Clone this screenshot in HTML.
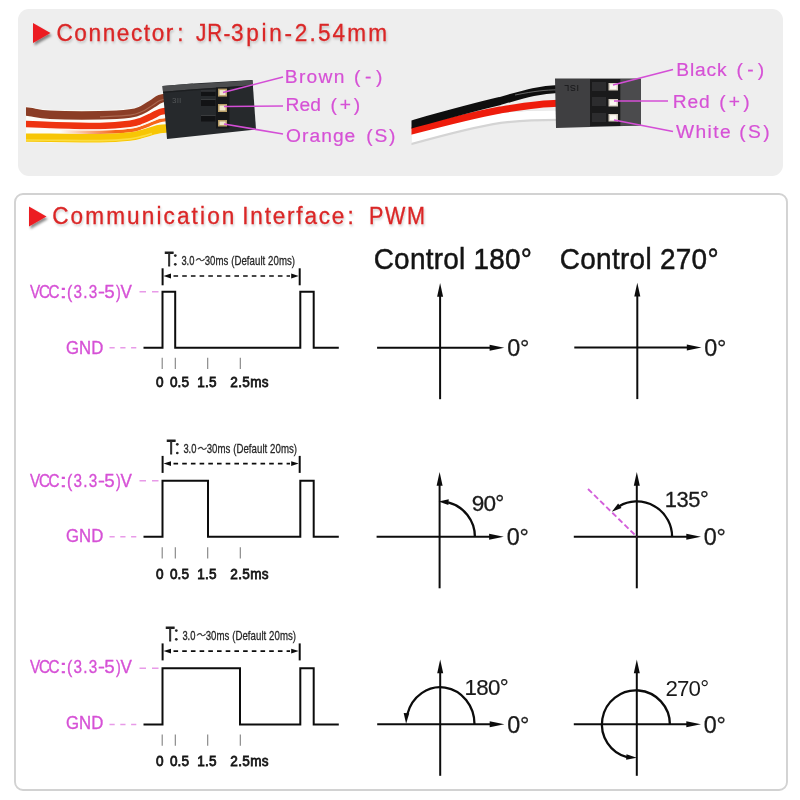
<!DOCTYPE html>
<html><head><meta charset="utf-8"><style>
html,body{margin:0;padding:0;background:#fff;width:800px;height:800px;overflow:hidden}
svg{display:block}
text{font-family:"Liberation Sans", sans-serif;font-kerning:none;font-variant-ligatures:none}
</style></head><body>
<svg width="800" height="800" viewBox="0 0 800 800">
<defs>
<linearGradient id="og" gradientUnits="userSpaceOnUse" x1="60" y1="0" x2="115" y2="0"><stop offset="0" stop-color="#f6661a" stop-opacity="0"/><stop offset="1" stop-color="#f6661a" stop-opacity="1"/></linearGradient>
<clipPath id="cr"><rect x="411.5" y="60" width="160" height="100"/></clipPath>
<clipPath id="cl"><rect x="26" y="60" width="160" height="100"/></clipPath>
<filter id="gs" x="0" y="0" width="100%" height="100%" filterUnits="userSpaceOnUse"><feOffset dx="0" dy="0"/></filter>
<filter id="sh" x="-50%" y="-50%" width="200%" height="200%"><feDropShadow dx="1.5" dy="2.5" stdDeviation="1.3" flood-color="#000" flood-opacity="0.45"/></filter>
<filter id="sh2" x="-10%" y="-30%" width="120%" height="160%"><feDropShadow dx="1" dy="2" stdDeviation="1.2" flood-color="#000" flood-opacity="0.18"/></filter>
</defs>
<g filter="url(#gs)">
<rect x="18" y="9" width="765" height="167" rx="11" fill="#eeeeee"/>
<rect x="15" y="194" width="772" height="596" rx="8" fill="#ffffff" stroke="#d2d2d2" stroke-width="1.9"/>
<polygon points="33,23 50.5,33 33,43" fill="#ec1f24" filter="url(#sh)"/>
<text transform="translate(56.47,41.10) scale(0.96,1)" x="0" y="0" font-size="23.5" letter-spacing="1.681" fill="#da2626" stroke="#da2626" stroke-width="0.3" filter="url(#sh2)">Connector</text>
<text transform="translate(177.37,41.10) scale(0.96,1)" x="0" y="0" font-size="23.5" letter-spacing="0.000" fill="#da2626" stroke="#da2626" stroke-width="0.3" filter="url(#sh2)">:</text>
<text transform="translate(195.94,41.10) scale(0.88,1)" x="0" y="0" font-size="23.5" letter-spacing="1.240" fill="#da2626" stroke="#da2626" stroke-width="0.3" filter="url(#sh2)">JR-</text>
<text transform="translate(230.90,41.10) scale(0.96,1)" x="0" y="0" font-size="23.5" letter-spacing="2.843" fill="#da2626" stroke="#da2626" stroke-width="0.3" filter="url(#sh2)">3pin-</text>
<text transform="translate(294.87,41.10) scale(0.96,1)" x="0" y="0" font-size="23.5" letter-spacing="2.228" fill="#da2626" stroke="#da2626" stroke-width="0.3" filter="url(#sh2)">2.54mm</text>
<polygon points="29,206.5 46.5,216.5 29,226.5" fill="#ec1f24" filter="url(#sh)"/>
<text transform="translate(52.17,223.70) scale(0.96,1)" x="0" y="0" font-size="23.5" letter-spacing="2.222" fill="#da2626" stroke="#da2626" stroke-width="0.3" filter="url(#sh2)">Communication</text>
<text transform="translate(242.31,223.70) scale(0.96,1)" x="0" y="0" font-size="23.5" letter-spacing="1.860" fill="#da2626" stroke="#da2626" stroke-width="0.3" filter="url(#sh2)">Interface</text>
<text transform="translate(347.57,223.70) scale(0.96,1)" x="0" y="0" font-size="23.5" letter-spacing="0.000" fill="#da2626" stroke="#da2626" stroke-width="0.3" filter="url(#sh2)">:</text>
<text transform="translate(369.12,223.70) scale(0.92,1)" x="0" y="0" font-size="23.5" letter-spacing="1.663" fill="#da2626" stroke="#da2626" stroke-width="0.3" filter="url(#sh2)">PWM</text>
<g clip-path="url(#cl)">
<path d="M18,105.5 C20.00,105.75 24.67,106.28 30,107 C35.33,107.72 38.33,109.25 50,109.8 C61.67,110.35 86.67,110.52 100,110.3 C113.33,110.08 123.00,109.38 130,108.5 C137.00,107.62 138.33,106.58 142,105 C145.67,103.42 149.00,100.83 152,99 C155.00,97.17 157.33,95.08 160,94 C162.67,92.92 166.67,92.75 168,92.5 L168,133.1 168,133.1 C166.67,133.18 162.67,133.18 160,133.6 C157.33,134.02 155.00,134.77 152,135.6 C149.00,136.43 145.67,137.68 142,138.6 C138.33,139.52 137.00,140.40 130,141.1 C123.00,141.80 113.33,142.58 100,142.79999999999998 C86.67,143.02 63.67,142.50 50,142.4 C36.33,142.30 23.33,142.23 18,142.2 Z" fill="#fdfdf8"/>
<path d="M18,110.5 C20.00,110.75 24.67,111.28 30,112 C35.33,112.72 38.33,114.25 50,114.8 C61.67,115.35 86.67,115.52 100,115.3 C113.33,115.08 123.00,114.38 130,113.5 C137.00,112.62 138.33,111.58 142,110 C145.67,108.42 149.00,105.83 152,104 C155.00,102.17 157.33,100.08 160,99 C162.67,97.92 166.67,97.75 168,97.5" fill="none" stroke="#8b3d25" stroke-width="8.4"/>
<path d="M100,116.89999999999999 C105.00,116.60 123.00,115.98 130,115.1 C137.00,114.22 138.33,113.18 142,111.6 C145.67,110.02 149.00,107.43 152,105.6 C155.00,103.77 157.33,101.68 160,100.6 C162.67,99.52 166.67,99.35 168,99.1" fill="none" stroke="#b27058" stroke-width="1.1" opacity="0.8"/>
<path d="M18,123.6 C23.33,123.83 36.33,124.60 50,125 C63.67,125.40 86.67,126.20 100,126 C113.33,125.80 123.00,124.72 130,123.8 C137.00,122.88 138.33,121.80 142,120.5 C145.67,119.20 149.00,117.42 152,116 C155.00,114.58 157.33,112.92 160,112 C162.67,111.08 166.67,110.75 168,110.5" fill="none" stroke="#ee3410" stroke-width="6.6"/>
<path d="M18,131 C23.33,131.08 36.33,131.30 50,131.5 C63.67,131.70 86.67,132.37 100,132.2 C113.33,132.03 123.00,131.28 130,130.5 C137.00,129.72 138.33,128.67 142,127.5 C145.67,126.33 149.00,124.67 152,123.5 C155.00,122.33 157.33,121.17 160,120.5 C162.67,119.83 166.67,119.67 168,119.5" fill="none" stroke="url(#og)" stroke-width="3.4"/>
<path d="M50,129.3 C58.33,129.42 86.67,130.17 100,130.0 C113.33,129.83 123.00,129.08 130,128.3 C137.00,127.52 138.33,126.47 142,125.3 C145.67,124.13 149.00,122.47 152,121.3 C155.00,120.13 157.33,118.97 160,118.3 C162.67,117.63 166.67,117.47 168,117.3" fill="none" stroke="#fff4ea" stroke-width="1.1" opacity="0.9"/>
<path d="M18,137.6 C23.33,137.63 36.33,137.70 50,137.8 C63.67,137.90 86.67,138.42 100,138.2 C113.33,137.98 123.00,137.20 130,136.5 C137.00,135.80 138.33,134.92 142,134 C145.67,133.08 149.00,131.83 152,131 C155.00,130.17 157.33,129.42 160,129 C162.67,128.58 166.67,128.58 168,128.5" fill="none" stroke="#f7c605" stroke-width="8.4"/>
<path d="M18,140.0 C23.33,140.03 36.33,140.10 50,140.20000000000002 C63.67,140.30 86.67,140.82 100,140.6 C113.33,140.38 123.00,139.60 130,138.9 C137.00,138.20 138.33,137.32 142,136.4 C145.67,135.48 150.33,133.90 152,133.4" fill="none" stroke="#fde24e" stroke-width="1.6" opacity="0.8"/>
</g>
<polygon points="162.5,86 193,83.5 252.5,80 256,129.5 167,139" fill="#26292c"/>
<polygon points="162.5,86 192.5,83.4 193.5,84.2 252.5,80.2 252.8,85.2 193.5,89.2 163,91.8" fill="#4b4c4e"/>
<polygon points="163,91.8 193.5,89.2 252.8,85.2 252.9,86.4 193.5,90.4 163.1,93" fill="#1c1e20"/>
<rect x="201" y="91.5" width="14.5" height="4.5" fill="#121315"/>
<rect x="201" y="90.5" width="14.5" height="1" fill="#3a3c3e"/>
<rect x="201" y="100" width="14.5" height="6" fill="#121315"/>
<rect x="201" y="99" width="14.5" height="1" fill="#3a3c3e"/>
<rect x="201" y="116" width="14.5" height="5.5" fill="#121315"/>
<rect x="201" y="115" width="14.5" height="1" fill="#3a3c3e"/>
<rect x="216" y="87.5" width="13.5" height="41" fill="#161719"/>
<rect x="218" y="88.6" width="9" height="8" fill="#b89e68"/>
<rect x="219.5" y="90.1" width="6" height="5" fill="#efe6cc"/>
<rect x="218" y="104" width="9" height="8" fill="#b89e68"/>
<rect x="219.5" y="105.5" width="6" height="5" fill="#efe6cc"/>
<rect x="218" y="120" width="9" height="6.5" fill="#b89e68"/>
<rect x="219.5" y="121.5" width="6" height="3.5" fill="#efe6cc"/>
<text x="172" y="103" font-size="8" fill="#55585a" letter-spacing="0.5">3ll</text>
<g clip-path="url(#cr)">
<path d="M404,141.5 C440,131.5 470,123 500,118.5 C525,115.5 540,115.5 558,115.5" fill="none" stroke="#d4d4d4" stroke-width="11"/>
<path d="M404,140.5 C440,130.5 470,122 500,117.5 C525,114.5 540,114.5 558,114.5" fill="none" stroke="#ffffff" stroke-width="8.5"/>
<path d="M404,133 C440,123.5 470,115.5 500,110 C525,106 540,103.5 558,103.3" fill="none" stroke="#ee1c0c" stroke-width="7"/>
<path d="M404,126.5 C440,116.5 470,108 500,101 C525,94 540,89.5 558,89" fill="none" stroke="#0e0e0e" stroke-width="8"/>
<path d="M515,95 C535,91 545,90 558,89.8" fill="none" stroke="#8a8a8a" stroke-width="0.9" opacity="0.8"/>
</g>
<polygon points="555,78.5 641,78.5 641,125.5 556,128" fill="#3f3f41"/>
<rect x="590" y="79" width="30.5" height="47" fill="#1a1a1b"/>
<rect x="620.5" y="79" width="20.5" height="46.5" fill="#4b4b4d"/>
<rect x="592" y="82" width="14" height="9" fill="#2c2c2e"/>
<rect x="592" y="97" width="14" height="9" fill="#2c2c2e"/>
<rect x="592" y="113" width="14" height="9" fill="#2c2c2e"/>
<rect x="608.5" y="83" width="9.5" height="7.5" fill="#d8d0c4"/>
<rect x="610" y="84.2" width="6.5" height="5" fill="#fbf8f2"/>
<rect x="608.5" y="99" width="9.5" height="7.5" fill="#d8d0c4"/>
<rect x="610" y="100.2" width="6.5" height="5" fill="#fbf8f2"/>
<rect x="608.5" y="114" width="9.5" height="7.5" fill="#d8d0c4"/>
<rect x="610" y="115.2" width="6.5" height="5" fill="#fbf8f2"/>
<text x="562" y="92" font-size="9" fill="#141416" letter-spacing="0.6" transform="rotate(180 570.5 88.5)">ISL</text>
<line x1="223" y1="92.5" x2="283" y2="77" stroke="#d44ed6" stroke-width="1.6"/>
<line x1="224" y1="106.5" x2="283" y2="106" stroke="#d44ed6" stroke-width="1.6"/>
<line x1="224" y1="124" x2="283" y2="134" stroke="#d44ed6" stroke-width="1.6"/>
<line x1="613" y1="85" x2="673" y2="69.5" stroke="#d44ed6" stroke-width="1.6"/>
<line x1="614" y1="101" x2="668" y2="101" stroke="#d44ed6" stroke-width="1.6"/>
<line x1="614" y1="120" x2="673" y2="131.5" stroke="#d44ed6" stroke-width="1.6"/>
<text transform="translate(284.82,82.60) scale(1.0,1)" x="0" y="0" font-size="19.2" letter-spacing="1.300" fill="#d651d6" stroke="#d651d6" stroke-width="0.2">Brown</text>
<text transform="translate(354.10,82.60) scale(1.0,1)" x="0" y="0" font-size="19.2" letter-spacing="4.600" fill="#d651d6" stroke="#d651d6" stroke-width="0.2">(-)</text>
<text transform="translate(285.42,111.20) scale(1.0,1)" x="0" y="0" font-size="19.2" letter-spacing="0.100" fill="#d651d6" stroke="#d651d6" stroke-width="0.2">Red</text>
<text transform="translate(330.50,111.20) scale(1.0,1)" x="0" y="0" font-size="19.2" letter-spacing="2.826" fill="#d651d6" stroke="#d651d6" stroke-width="0.2">(+)</text>
<text transform="translate(286.09,142.00) scale(1.0,1)" x="0" y="0" font-size="19.2" letter-spacing="1.039" fill="#d651d6" stroke="#d651d6" stroke-width="0.2">Orange</text>
<text transform="translate(366.30,142.00) scale(1.0,1)" x="0" y="0" font-size="19.2" letter-spacing="1.784" fill="#d651d6" stroke="#d651d6" stroke-width="0.2">(S)</text>
<text transform="translate(676.22,75.60) scale(1.0,1)" x="0" y="0" font-size="19.2" letter-spacing="0.860" fill="#d651d6" stroke="#d651d6" stroke-width="0.2">Black</text>
<text transform="translate(736.50,75.60) scale(1.0,1)" x="0" y="0" font-size="19.2" letter-spacing="4.250" fill="#d651d6" stroke="#d651d6" stroke-width="0.2">(-)</text>
<text transform="translate(672.72,107.80) scale(1.0,1)" x="0" y="0" font-size="19.2" letter-spacing="0.850" fill="#d651d6" stroke="#d651d6" stroke-width="0.2">Red</text>
<text transform="translate(719.20,107.80) scale(1.0,1)" x="0" y="0" font-size="19.2" letter-spacing="3.276" fill="#d651d6" stroke="#d651d6" stroke-width="0.2">(+)</text>
<text transform="translate(675.90,138.00) scale(1.0,1)" x="0" y="0" font-size="19.2" letter-spacing="1.439" fill="#d651d6" stroke="#d651d6" stroke-width="0.2">White</text>
<text transform="translate(739.20,138.00) scale(1.0,1)" x="0" y="0" font-size="19.2" letter-spacing="2.434" fill="#d651d6" stroke="#d651d6" stroke-width="0.2">(S)</text>
<text transform="translate(30.12,298.30) scale(0.85,1)" x="0" y="0" font-size="18" letter-spacing="-1.689" fill="#d651d6" stroke="#d651d6" stroke-width="0.35">VCC</text>
<text transform="translate(59.61,298.30) scale(1.538,1)" x="0" y="0" font-size="18" letter-spacing="0.000" fill="#d651d6" stroke="#d651d6" stroke-width="0.35">:</text>
<text transform="translate(67.01,298.30) scale(0.881,1)" x="0" y="0" font-size="18" letter-spacing="0.000" fill="#d651d6" stroke="#d651d6" stroke-width="0.35">(</text>
<text transform="translate(73.43,298.30) scale(0.85,1)" x="0" y="0" font-size="18" letter-spacing="1.504" fill="#d651d6" stroke="#d651d6" stroke-width="0.35">3.3</text>
<text transform="translate(97.96,298.30) scale(1.156,1)" x="0" y="0" font-size="18" letter-spacing="0.000" fill="#d651d6" stroke="#d651d6" stroke-width="0.35">-</text>
<text transform="translate(104.25,298.30) scale(1.041,1)" x="0" y="0" font-size="18" letter-spacing="0.000" fill="#d651d6" stroke="#d651d6" stroke-width="0.35">5</text>
<text transform="translate(116.09,298.30) scale(0.797,1)" x="0" y="0" font-size="18" letter-spacing="0.000" fill="#d651d6" stroke="#d651d6" stroke-width="0.35">)</text>
<text transform="translate(120.41,298.30) scale(0.946,1)" x="0" y="0" font-size="18" letter-spacing="0.000" fill="#d651d6" stroke="#d651d6" stroke-width="0.35">V</text>
<text transform="translate(66.06,354.10) scale(0.9,1)" x="0" y="0" font-size="18.6" letter-spacing="0.015" fill="#d651d6" stroke="#d651d6" stroke-width="0.35">GND</text>
<line x1="139.5" y1="291.7" x2="159.5" y2="291.7" stroke="#e89ae8" stroke-width="1.5" stroke-dasharray="6.5 6"/>
<line x1="109.5" y1="347.8" x2="138" y2="347.8" stroke="#e89ae8" stroke-width="1.5" stroke-dasharray="5.2 5.6"/>
<path d="M143.5,347.8 H162.5 V291.7 H175.2 V347.8 H300.3 V291.7 H313.7 V347.8 H338.8" fill="none" stroke="#0c0c0c" stroke-width="2"/>
<line x1="162.6" y1="268.3" x2="162.6" y2="285.3" stroke="#0c0c0c" stroke-width="2"/>
<line x1="299.7" y1="268.3" x2="299.7" y2="285.3" stroke="#0c0c0c" stroke-width="2"/>
<line x1="173.5" y1="276.0" x2="290" y2="276.0" stroke="#0c0c0c" stroke-width="1.6" stroke-dasharray="4.6 4.1"/>
<polygon points="163.5,276.0 171,273.6 171,278.4" fill="#0c0c0c"/>
<polygon points="298.7,276.0 291.2,273.6 291.2,278.4" fill="#0c0c0c"/>
<text transform="translate(164.67,265.50) scale(0.715,1)" x="0" y="0" font-size="20.3" letter-spacing="0.000" fill="#1e1e1e" stroke="#1e1e1e" stroke-width="0.9">T</text>
<circle cx="175.3" cy="255.6" r="1.35" fill="#262626"/><circle cx="175.3" cy="264.3" r="1.35" fill="#262626"/>
<text transform="translate(181.40,264.60) scale(0.7,1)" x="0" y="0" font-size="13.4" letter-spacing="0.011" fill="#262626" stroke="#262626" stroke-width="0.35">3.0</text>
<path d="M196,260.5 C198,257.9 200,258.5 200.3,259.7 S202.6,261.5 204.6,258.9" fill="none" stroke="#3a3a3a" stroke-width="1.2"/>
<text transform="translate(204.64,264.60) scale(0.72,1)" x="0" y="0" font-size="13.4" letter-spacing="0.078" fill="#262626" stroke="#262626" stroke-width="0.3">30ms (Default 20ms)</text>
<line x1="162.2" y1="357.7" x2="162.2" y2="368.9" stroke="#808080" stroke-width="1.1"/>
<line x1="175.3" y1="357.7" x2="175.3" y2="368.9" stroke="#808080" stroke-width="1.1"/>
<line x1="207.7" y1="357.7" x2="207.7" y2="368.9" stroke="#808080" stroke-width="1.1"/>
<line x1="240.3" y1="357.7" x2="240.3" y2="368.9" stroke="#808080" stroke-width="1.1"/>
<text transform="translate(155.96,386.60) scale(0.952,1)" x="0" y="0" font-size="14.3" letter-spacing="0.000" fill="#141414" stroke="#141414" stroke-width="0.75">0</text>
<text transform="translate(169.96,386.60) scale(0.95,1)" x="0" y="0" font-size="14.3" letter-spacing="0.107" fill="#141414" stroke="#141414" stroke-width="0.75">0.5</text>
<text transform="translate(197.18,386.60) scale(0.95,1)" x="0" y="0" font-size="14.3" letter-spacing="0.200" fill="#141414" stroke="#141414" stroke-width="0.75">1.5</text>
<text transform="translate(230.22,386.60) scale(0.95,1)" x="0" y="0" font-size="14.3" letter-spacing="0.387" fill="#141414" stroke="#141414" stroke-width="0.75">2.5ms</text>
<text transform="translate(30.12,486.60) scale(0.85,1)" x="0" y="0" font-size="18" letter-spacing="-1.689" fill="#d651d6" stroke="#d651d6" stroke-width="0.35">VCC</text>
<text transform="translate(59.61,486.60) scale(1.538,1)" x="0" y="0" font-size="18" letter-spacing="0.000" fill="#d651d6" stroke="#d651d6" stroke-width="0.35">:</text>
<text transform="translate(67.01,486.60) scale(0.881,1)" x="0" y="0" font-size="18" letter-spacing="0.000" fill="#d651d6" stroke="#d651d6" stroke-width="0.35">(</text>
<text transform="translate(73.43,486.60) scale(0.85,1)" x="0" y="0" font-size="18" letter-spacing="1.504" fill="#d651d6" stroke="#d651d6" stroke-width="0.35">3.3</text>
<text transform="translate(97.96,486.60) scale(1.156,1)" x="0" y="0" font-size="18" letter-spacing="0.000" fill="#d651d6" stroke="#d651d6" stroke-width="0.35">-</text>
<text transform="translate(104.25,486.60) scale(1.041,1)" x="0" y="0" font-size="18" letter-spacing="0.000" fill="#d651d6" stroke="#d651d6" stroke-width="0.35">5</text>
<text transform="translate(116.09,486.60) scale(0.797,1)" x="0" y="0" font-size="18" letter-spacing="0.000" fill="#d651d6" stroke="#d651d6" stroke-width="0.35">)</text>
<text transform="translate(120.41,486.60) scale(0.946,1)" x="0" y="0" font-size="18" letter-spacing="0.000" fill="#d651d6" stroke="#d651d6" stroke-width="0.35">V</text>
<text transform="translate(66.06,541.90) scale(0.9,1)" x="0" y="0" font-size="18.6" letter-spacing="0.015" fill="#d651d6" stroke="#d651d6" stroke-width="0.35">GND</text>
<line x1="139.5" y1="480.8" x2="159.5" y2="480.8" stroke="#e89ae8" stroke-width="1.5" stroke-dasharray="6.5 6"/>
<line x1="109.5" y1="536.8" x2="138" y2="536.8" stroke="#e89ae8" stroke-width="1.5" stroke-dasharray="5.2 5.6"/>
<path d="M143.5,536.8 H162.5 V480.8 H208 V536.8 H300.3 V480.8 H313.7 V536.8 H338.8" fill="none" stroke="#0c0c0c" stroke-width="2"/>
<line x1="162.6" y1="455.90000000000003" x2="162.6" y2="472.90000000000003" stroke="#0c0c0c" stroke-width="2"/>
<line x1="299.7" y1="455.90000000000003" x2="299.7" y2="472.90000000000003" stroke="#0c0c0c" stroke-width="2"/>
<line x1="173.5" y1="463.6" x2="290" y2="463.6" stroke="#0c0c0c" stroke-width="1.6" stroke-dasharray="4.6 4.1"/>
<polygon points="163.5,463.6 171,461.20000000000005 171,466.0" fill="#0c0c0c"/>
<polygon points="298.7,463.6 291.2,461.20000000000005 291.2,466.0" fill="#0c0c0c"/>
<text transform="translate(166.67,454.20) scale(0.715,1)" x="0" y="0" font-size="20.3" letter-spacing="0.000" fill="#1e1e1e" stroke="#1e1e1e" stroke-width="0.9">T</text>
<circle cx="177.3" cy="444.3" r="1.35" fill="#262626"/><circle cx="177.3" cy="453.0" r="1.35" fill="#262626"/>
<text transform="translate(183.40,453.30) scale(0.7,1)" x="0" y="0" font-size="13.4" letter-spacing="0.011" fill="#262626" stroke="#262626" stroke-width="0.35">3.0</text>
<path d="M198,449.2 C200,446.59999999999997 202,447.2 202.3,448.4 S204.6,450.2 206.6,447.59999999999997" fill="none" stroke="#3a3a3a" stroke-width="1.2"/>
<text transform="translate(206.64,453.30) scale(0.72,1)" x="0" y="0" font-size="13.4" letter-spacing="0.078" fill="#262626" stroke="#262626" stroke-width="0.3">30ms (Default 20ms)</text>
<line x1="162.2" y1="547.3" x2="162.2" y2="558.5" stroke="#808080" stroke-width="1.1"/>
<line x1="175.3" y1="547.3" x2="175.3" y2="558.5" stroke="#808080" stroke-width="1.1"/>
<line x1="207.7" y1="547.3" x2="207.7" y2="558.5" stroke="#808080" stroke-width="1.1"/>
<line x1="240.3" y1="547.3" x2="240.3" y2="558.5" stroke="#808080" stroke-width="1.1"/>
<text transform="translate(155.96,578.70) scale(0.952,1)" x="0" y="0" font-size="14.3" letter-spacing="0.000" fill="#141414" stroke="#141414" stroke-width="0.75">0</text>
<text transform="translate(169.96,578.70) scale(0.95,1)" x="0" y="0" font-size="14.3" letter-spacing="0.107" fill="#141414" stroke="#141414" stroke-width="0.75">0.5</text>
<text transform="translate(197.18,578.70) scale(0.95,1)" x="0" y="0" font-size="14.3" letter-spacing="0.200" fill="#141414" stroke="#141414" stroke-width="0.75">1.5</text>
<text transform="translate(230.22,578.70) scale(0.95,1)" x="0" y="0" font-size="14.3" letter-spacing="0.387" fill="#141414" stroke="#141414" stroke-width="0.75">2.5ms</text>
<text transform="translate(30.12,673.30) scale(0.85,1)" x="0" y="0" font-size="18" letter-spacing="-1.689" fill="#d651d6" stroke="#d651d6" stroke-width="0.35">VCC</text>
<text transform="translate(59.61,673.30) scale(1.538,1)" x="0" y="0" font-size="18" letter-spacing="0.000" fill="#d651d6" stroke="#d651d6" stroke-width="0.35">:</text>
<text transform="translate(67.01,673.30) scale(0.881,1)" x="0" y="0" font-size="18" letter-spacing="0.000" fill="#d651d6" stroke="#d651d6" stroke-width="0.35">(</text>
<text transform="translate(73.43,673.30) scale(0.85,1)" x="0" y="0" font-size="18" letter-spacing="1.504" fill="#d651d6" stroke="#d651d6" stroke-width="0.35">3.3</text>
<text transform="translate(97.96,673.30) scale(1.156,1)" x="0" y="0" font-size="18" letter-spacing="0.000" fill="#d651d6" stroke="#d651d6" stroke-width="0.35">-</text>
<text transform="translate(104.25,673.30) scale(1.041,1)" x="0" y="0" font-size="18" letter-spacing="0.000" fill="#d651d6" stroke="#d651d6" stroke-width="0.35">5</text>
<text transform="translate(116.09,673.30) scale(0.797,1)" x="0" y="0" font-size="18" letter-spacing="0.000" fill="#d651d6" stroke="#d651d6" stroke-width="0.35">)</text>
<text transform="translate(120.41,673.30) scale(0.946,1)" x="0" y="0" font-size="18" letter-spacing="0.000" fill="#d651d6" stroke="#d651d6" stroke-width="0.35">V</text>
<text transform="translate(66.06,729.00) scale(0.9,1)" x="0" y="0" font-size="18.6" letter-spacing="0.015" fill="#d651d6" stroke="#d651d6" stroke-width="0.35">GND</text>
<line x1="139.5" y1="668.3" x2="159.5" y2="668.3" stroke="#e89ae8" stroke-width="1.5" stroke-dasharray="6.5 6"/>
<line x1="109.5" y1="724.4" x2="138" y2="724.4" stroke="#e89ae8" stroke-width="1.5" stroke-dasharray="5.2 5.6"/>
<path d="M143.5,724.4 H162.5 V668.3 H240 V724.4 H300.3 V668.3 H313.7 V724.4 H338.8" fill="none" stroke="#0c0c0c" stroke-width="2"/>
<line x1="162.6" y1="643.3999999999999" x2="162.6" y2="660.3999999999999" stroke="#0c0c0c" stroke-width="2"/>
<line x1="299.7" y1="643.3999999999999" x2="299.7" y2="660.3999999999999" stroke="#0c0c0c" stroke-width="2"/>
<line x1="173.5" y1="651.0999999999999" x2="290" y2="651.0999999999999" stroke="#0c0c0c" stroke-width="1.6" stroke-dasharray="4.6 4.1"/>
<polygon points="163.5,651.0999999999999 171,648.6999999999999 171,653.4999999999999" fill="#0c0c0c"/>
<polygon points="298.7,651.0999999999999 291.2,648.6999999999999 291.2,653.4999999999999" fill="#0c0c0c"/>
<text transform="translate(165.67,640.50) scale(0.715,1)" x="0" y="0" font-size="20.3" letter-spacing="0.000" fill="#1e1e1e" stroke="#1e1e1e" stroke-width="0.9">T</text>
<circle cx="176.3" cy="630.6" r="1.35" fill="#262626"/><circle cx="176.3" cy="639.3" r="1.35" fill="#262626"/>
<text transform="translate(182.40,639.60) scale(0.7,1)" x="0" y="0" font-size="13.4" letter-spacing="0.011" fill="#262626" stroke="#262626" stroke-width="0.35">3.0</text>
<path d="M197,635.5 C199,632.9000000000001 201,633.5 201.3,634.7 S203.6,636.5 205.6,633.9000000000001" fill="none" stroke="#3a3a3a" stroke-width="1.2"/>
<text transform="translate(205.64,639.60) scale(0.72,1)" x="0" y="0" font-size="13.4" letter-spacing="0.078" fill="#262626" stroke="#262626" stroke-width="0.3">30ms (Default 20ms)</text>
<line x1="162.2" y1="734.5" x2="162.2" y2="745.7" stroke="#808080" stroke-width="1.1"/>
<line x1="175.3" y1="734.5" x2="175.3" y2="745.7" stroke="#808080" stroke-width="1.1"/>
<line x1="207.7" y1="734.5" x2="207.7" y2="745.7" stroke="#808080" stroke-width="1.1"/>
<line x1="240.3" y1="734.5" x2="240.3" y2="745.7" stroke="#808080" stroke-width="1.1"/>
<text transform="translate(155.96,765.70) scale(0.952,1)" x="0" y="0" font-size="14.3" letter-spacing="0.000" fill="#141414" stroke="#141414" stroke-width="0.75">0</text>
<text transform="translate(169.96,765.70) scale(0.95,1)" x="0" y="0" font-size="14.3" letter-spacing="0.107" fill="#141414" stroke="#141414" stroke-width="0.75">0.5</text>
<text transform="translate(197.18,765.70) scale(0.95,1)" x="0" y="0" font-size="14.3" letter-spacing="0.200" fill="#141414" stroke="#141414" stroke-width="0.75">1.5</text>
<text transform="translate(230.22,765.70) scale(0.95,1)" x="0" y="0" font-size="14.3" letter-spacing="0.387" fill="#141414" stroke="#141414" stroke-width="0.75">2.5ms</text>
<text transform="translate(373.70,269.30) scale(0.95,1)" x="0" y="0" font-size="29.4" letter-spacing="0.268" fill="#141414" stroke="#141414" stroke-width="0.5">Control 180°</text>
<text transform="translate(559.85,269.30) scale(0.95,1)" x="0" y="0" font-size="29.4" letter-spacing="0.311" fill="#141414" stroke="#141414" stroke-width="0.5">Control 270°</text>
<line x1="377.1" y1="347.7" x2="492.1" y2="347.7" stroke="#0c0c0c" stroke-width="2"/>
<polygon points="504.3,347.7 489.6,344.7 489.6,350.7" fill="#0c0c0c"/>
<line x1="440.1" y1="399.2" x2="440.1" y2="294.7" stroke="#0c0c0c" stroke-width="2"/>
<polygon points="440.1,282.9 437.1,296.7 443.1,296.7" fill="#0c0c0c"/>
<text transform="translate(507.16,356.00) scale(1.0,1)" x="0" y="0" font-size="23.4" letter-spacing="-0.257" fill="#1a1a1a" stroke="#1a1a1a" stroke-width="0.25">0°</text>
<line x1="574.3" y1="347.6" x2="689.3" y2="347.6" stroke="#0c0c0c" stroke-width="2"/>
<polygon points="701.5,347.6 686.8,344.6 686.8,350.6" fill="#0c0c0c"/>
<line x1="637.3" y1="399.1" x2="637.3" y2="294.6" stroke="#0c0c0c" stroke-width="2"/>
<polygon points="637.3,282.8 634.3,296.6 640.3,296.6" fill="#0c0c0c"/>
<text transform="translate(704.36,355.90) scale(1.0,1)" x="0" y="0" font-size="23.4" letter-spacing="-0.257" fill="#1a1a1a" stroke="#1a1a1a" stroke-width="0.25">0°</text>
<line x1="376.6" y1="536.8" x2="491.6" y2="536.8" stroke="#0c0c0c" stroke-width="2"/>
<polygon points="503.8,536.8 489.1,533.8 489.1,539.8" fill="#0c0c0c"/>
<line x1="439.6" y1="588.3" x2="439.6" y2="483.79999999999995" stroke="#0c0c0c" stroke-width="2"/>
<polygon points="439.6,471.99999999999994 436.6,485.79999999999995 442.6,485.79999999999995" fill="#0c0c0c"/>
<text transform="translate(506.66,545.10) scale(1.0,1)" x="0" y="0" font-size="23.4" letter-spacing="-0.257" fill="#1a1a1a" stroke="#1a1a1a" stroke-width="0.25">0°</text>
<line x1="573.8" y1="536.8" x2="688.8" y2="536.8" stroke="#0c0c0c" stroke-width="2"/>
<polygon points="701.0,536.8 686.3,533.8 686.3,539.8" fill="#0c0c0c"/>
<line x1="636.8" y1="588.3" x2="636.8" y2="483.79999999999995" stroke="#0c0c0c" stroke-width="2"/>
<polygon points="636.8,471.99999999999994 633.8,485.79999999999995 639.8,485.79999999999995" fill="#0c0c0c"/>
<text transform="translate(703.86,545.10) scale(1.0,1)" x="0" y="0" font-size="23.4" letter-spacing="-0.257" fill="#1a1a1a" stroke="#1a1a1a" stroke-width="0.25">0°</text>
<line x1="377.2" y1="724.3" x2="492.2" y2="724.3" stroke="#0c0c0c" stroke-width="2"/>
<polygon points="504.4,724.3 489.7,721.3 489.7,727.3" fill="#0c0c0c"/>
<line x1="440.2" y1="775.8" x2="440.2" y2="671.3" stroke="#0c0c0c" stroke-width="2"/>
<polygon points="440.2,659.5 437.2,673.3 443.2,673.3" fill="#0c0c0c"/>
<text transform="translate(507.26,732.60) scale(1.0,1)" x="0" y="0" font-size="23.4" letter-spacing="-0.257" fill="#1a1a1a" stroke="#1a1a1a" stroke-width="0.25">0°</text>
<line x1="573.8" y1="724.3" x2="688.8" y2="724.3" stroke="#0c0c0c" stroke-width="2"/>
<polygon points="701.0,724.3 686.3,721.3 686.3,727.3" fill="#0c0c0c"/>
<line x1="636.8" y1="775.8" x2="636.8" y2="671.3" stroke="#0c0c0c" stroke-width="2"/>
<polygon points="636.8,659.5 633.8,673.3 639.8,673.3" fill="#0c0c0c"/>
<text transform="translate(703.86,732.60) scale(1.0,1)" x="0" y="0" font-size="23.4" letter-spacing="-0.257" fill="#1a1a1a" stroke="#1a1a1a" stroke-width="0.25">0°</text>
<path d="M474.90,536.70 A35.3,35.3 0 0 0 448.14,502.45" fill="none" stroke="#0c0c0c" stroke-width="2.3"/>
<polygon points="438.60,501.40 448.77,499.30 448.38,504.89" fill="#0c0c0c"/>
<text transform="translate(471.83,510.90) scale(1.0,1)" x="0" y="0" font-size="22.6" letter-spacing="-0.826" fill="#1a1a1a" stroke="#1a1a1a" stroke-width="0.3">90°</text>
<line x1="588" y1="489" x2="636.8" y2="536.7" stroke="#d35fdb" stroke-width="1.9" stroke-dasharray="5.6 2.9"/>
<path d="M672.10,536.70 A35.3,35.3 0 0 0 619.15,506.13" fill="none" stroke="#0c0c0c" stroke-width="2.3"/>
<polygon points="611.84,511.74 618.14,503.48 621.51,507.96" fill="#0c0c0c"/>
<text transform="translate(664.86,507.10) scale(1.0,1)" x="0" y="0" font-size="21.9" letter-spacing="-0.474" fill="#1a1a1a" stroke="#1a1a1a" stroke-width="0.3">135°</text>
<path d="M474.5,724.2 A34.2,37.0 0 0 0 407.42,714.00" fill="none" stroke="#0c0c0c" stroke-width="2.3"/>
<polygon points="406.10,723.70 403.67,713.11 409.26,713.30" fill="#0c0c0c"/>
<text transform="translate(464.53,694.50) scale(1.0,1)" x="0" y="0" font-size="22.3" letter-spacing="-0.632" fill="#1a1a1a" stroke="#1a1a1a" stroke-width="0.2">180°</text>
<path d="M669.90,724.40 A34.0,34.0 0 1 0 627.67,757.39" fill="none" stroke="#0c0c0c" stroke-width="2.3"/>
<polygon points="636.80,757.80 626.13,759.86 626.52,754.27" fill="#0c0c0c"/>
<text transform="translate(665.38,695.50) scale(1.0,1)" x="0" y="0" font-size="22.3" letter-spacing="-0.784" fill="#1a1a1a" >270°</text>
</g>
</svg>
</body></html>
